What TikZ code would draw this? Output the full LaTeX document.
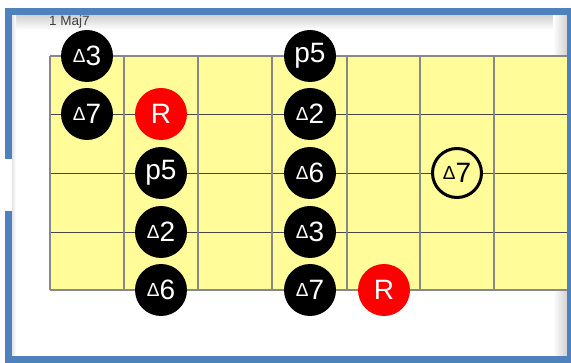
\documentclass[tikz,border=0pt]{standalone}
\usepackage{fontspec}
\setmainfont{Liberation Sans}
\definecolor{fretyellow}{RGB}{255,252,153}
\definecolor{framblue}{RGB}{79,129,189}
\definecolor{fretgray}{RGB}{136,136,136}
\definecolor{strdark}{RGB}{70,70,70}
\newcommand{\tri}{{\fontsize{19}{19}\selectfont\raisebox{3pt}{Δ}}}
\tikzset{
  note/.style={circle, fill=black, text=white, minimum size=52pt, inner sep=0pt,
    font=\fontsize{28}{28}\selectfont},
  rootnote/.style={note, fill=red},
  hollownote/.style={circle, draw=black, line width=3pt, fill=fretyellow, text=black,
    minimum size=49pt, inner sep=0pt, font=\fontsize{28}{28}\selectfont},
  fret/.style={draw=fretgray, line width=2.6pt},
  stringline/.style={draw=strdark, line width=0.9pt},
  bluebar/.style={fill=framblue}
}
\begin{document}
\begin{tikzpicture}[x=1pt,y=-1pt]
\useasboundingbox (0,0) rectangle (571,363);
\fill[white] (0,0) rectangle (571,363);
% inner shadows
\shade[top color=black!18, bottom color=white] (12,15) rectangle (567,30);
\shade[left color=white, right color=black!18] (553,15) rectangle (567,356);
\shade[left color=black!10, right color=white] (12,15) rectangle (16,356);
% fretboard
\fill[fretyellow] (50,56) rectangle (567,290);
\foreach \y in {114,173,232} \draw[stringline] (50,\y) -- (567,\y);
\foreach \x in {50,124,198,272,347,420,494} \draw[fret] (\x,56) -- (\x,290);
\draw[fret] (50,56) -- (567,56);
\draw[fret] (50,290) -- (567,290);
% frame
\fill[bluebar] (5,8) rectangle (571,15);
\fill[bluebar] (567,8) rectangle (571,363);
\fill[bluebar] (5,356) rectangle (571,363);
\fill[bluebar] (5,8) rectangle (12,159);
\fill[bluebar] (5,211) rectangle (12,363);
% title
\node[anchor=west, inner sep=0pt, text=black!75, font=\fontsize{13.5}{13.5}\selectfont] (title) at (49,22) {1 Maj7};
% notes
\node[note] (a1) at (87,56) {\tri3};
\node[note] (a2) at (87,114) {\tri7};
\node[rootnote] (b2) at (161,114) {R};
\node[note] (b3) at (161,173) {p5};
\node[note] (b4) at (161,232) {\tri2};
\node[note] (b5) at (161,290) {\tri6};
\node[note] (d1) at (310,56) {p5};
\node[note] (d2) at (310,114) {\tri2};
\node[note] (d3) at (310,173) {\tri6};
\node[note] (d4) at (310,232) {\tri3};
\node[note] (d5) at (310,290) {\tri7};
\node[rootnote] (e5) at (384,290) {R};
\node[hollownote] (f3) at (457,173) {\tri7};
\end{tikzpicture}
\end{document}
